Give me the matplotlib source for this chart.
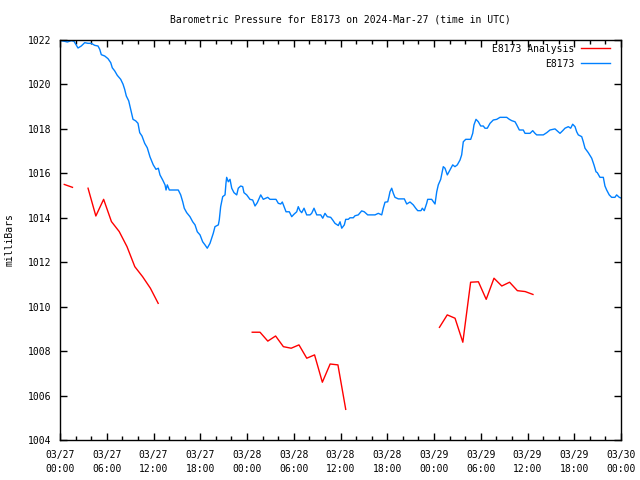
import numpy as np
import matplotlib
matplotlib.use("Agg")
import matplotlib.pyplot as plt
import matplotlib.dates as mdates
import pandas as pd
from matplotlib.ticker import MultipleLocator

plt.rcParams['font.family'] = ['DejaVu Sans Mono']

base = pd.Timestamp("2024-03-27 00:00")

# Station observations (hours since 2024-03-27 00:00 UTC, millibars)
obs_hours = [0, 0.17, 0.60, 0.94, 1.45, 1.80, 2.31, 2.73, 3.17, 3.59, 4.02, 4.45, 4.88, 5.10, 5.30, 5.74,
             6.16, 6.51, 6.71, 7.02, 7.35, 7.79, 8.09, 8.30, 8.51, 8.82, 9.07, 9.37, 9.72, 10.01, 10.23,
             10.52, 10.87, 11.20, 11.55, 11.97, 12.32, 12.62, 12.83, 13.18, 13.48, 13.61, 13.77, 14.03,
             15.18, 15.49, 15.75, 15.95, 16.26, 16.68, 17.03, 17.33, 17.62, 17.97, 18.31, 18.61, 18.90,
             19.25, 19.67, 19.89, 20.32, 20.44, 20.62, 20.88, 21.18, 21.30, 21.39, 21.60, 21.82, 22.04,
             22.33, 22.68, 22.88, 23.19, 23.45, 23.61, 23.96, 24.38, 24.73, 25.03, 25.32, 25.76, 26.09,
             26.66, 26.95, 27.72, 28.02, 28.33, 28.53, 28.79, 29.01, 29.43, 29.74, 30.03, 30.38, 30.58,
             30.80, 31.02, 31.32, 31.66, 32.09, 32.30, 32.60, 32.95, 33.46, 33.72, 34.01, 34.31, 34.74,
             35.00, 35.29, 35.72, 35.94, 36.16, 36.49, 36.67, 37.00, 37.22, 37.64, 37.86, 38.28, 38.72,
             39.05, 39.49, 40.43, 40.85, 41.29, 41.49, 41.71, 42.06, 42.22, 42.35, 42.57, 42.78, 42.99,
             43.42, 44.19, 44.50, 44.92, 45.34, 45.65, 45.91, 46.33, 46.50, 46.75, 47.06, 47.19, 47.70,
             48.13, 48.35, 48.55, 48.86, 49.19, 49.41, 49.71, 50.05, 50.40, 50.69, 50.99, 51.34, 51.55,
             51.76, 52.07, 52.71, 52.97, 53.13, 53.39, 53.69, 53.99, 54.33, 54.54, 54.84, 55.19, 55.61,
             56.05, 56.47, 57.33, 57.67, 57.98, 58.40, 58.62, 58.95, 59.46, 59.68, 60.32, 60.67, 60.96,
             61.18, 62.03, 62.47, 62.89, 63.53, 63.82, 64.17, 64.52, 64.81, 65.24, 65.54, 65.80, 66.10,
             66.31, 66.52, 66.96, 67.16, 67.38, 67.80, 68.24, 68.53, 68.79, 68.96, 69.30, 69.73, 69.94,
             70.16, 70.49, 70.80, 71.22, 71.44, 71.78, 72.0]
obs_mb = [1022.0, 1021.97, 1021.94, 1021.91, 1021.97, 1021.94, 1021.64, 1021.73, 1021.88, 1021.85, 1021.85,
          1021.76, 1021.73, 1021.58, 1021.34, 1021.28, 1021.16, 1020.98, 1020.75, 1020.61, 1020.41, 1020.23,
          1020.01, 1019.78, 1019.48, 1019.26, 1018.88, 1018.43, 1018.36, 1018.25, 1017.83, 1017.68, 1017.35,
          1017.15, 1016.74, 1016.38, 1016.18, 1016.23, 1015.93, 1015.70, 1015.48, 1015.25, 1015.48, 1015.25,
          1015.25, 1015.03, 1014.72, 1014.43, 1014.23, 1014.05, 1013.82, 1013.68, 1013.37, 1013.23, 1012.92,
          1012.78, 1012.63, 1012.85, 1013.30, 1013.60, 1013.68, 1013.90, 1014.50, 1014.95, 1015.03, 1015.55,
          1015.82, 1015.62, 1015.73, 1015.33, 1015.13, 1015.03, 1015.33, 1015.43, 1015.40, 1015.13, 1015.03,
          1014.83, 1014.80, 1014.53, 1014.68, 1015.03, 1014.83, 1014.92, 1014.83, 1014.83, 1014.65, 1014.62,
          1014.71, 1014.47, 1014.27, 1014.27, 1014.05, 1014.16, 1014.27, 1014.50, 1014.32, 1014.23, 1014.43,
          1014.13, 1014.13, 1014.20, 1014.43, 1014.13, 1014.13, 1013.98, 1014.20, 1014.05, 1014.02, 1013.90,
          1013.75, 1013.65, 1013.82, 1013.53, 1013.68, 1013.93, 1013.93, 1014.00, 1014.00, 1014.09, 1014.13,
          1014.31, 1014.27, 1014.13, 1014.13, 1014.20, 1014.13, 1014.43, 1014.70, 1014.72, 1014.95, 1015.17,
          1015.33, 1015.10, 1014.92, 1014.85, 1014.85, 1014.62, 1014.71, 1014.58, 1014.43, 1014.32, 1014.32,
          1014.43, 1014.32, 1014.65, 1014.83, 1014.83, 1014.62, 1015.17, 1015.48, 1015.73, 1016.30, 1016.23,
          1015.93, 1016.15, 1016.38, 1016.30, 1016.38, 1016.60, 1016.83, 1017.42, 1017.53, 1017.53, 1017.80,
          1018.18, 1018.43, 1018.32, 1018.13, 1018.13, 1018.03, 1018.03, 1018.25, 1018.40, 1018.43, 1018.52,
          1018.52, 1018.43, 1018.37, 1018.32, 1018.18, 1017.95, 1017.95, 1017.80, 1017.80, 1017.92, 1017.80,
          1017.73, 1017.73, 1017.83, 1017.95, 1018.00, 1017.91, 1017.80, 1017.92, 1018.03, 1018.10, 1018.03,
          1018.21, 1018.10, 1017.87, 1017.73, 1017.65, 1017.42, 1017.13, 1016.93, 1016.68, 1016.38, 1016.07,
          1016.03, 1015.82, 1015.82, 1015.43, 1015.25, 1015.03, 1014.92, 1014.92, 1015.03, 1014.92, 1014.89]

# Analysis (hourly, NaN = missing)
ana_hours = [0.55, 1.6, 2.6,
             3.6, 4.6, 5.6, 6.6, 7.6, 8.6, 9.6, 10.6, 11.6, 12.6, 13.6,
             24.67, 25.67, 26.67, 27.67, 28.67, 29.67, 30.67, 31.67, 32.67, 33.67, 34.67, 35.67, 36.67, 37.67,
             48.7, 49.7, 50.7, 51.7, 52.7, 53.7, 54.7, 55.7, 56.7, 57.7, 58.7, 59.7, 60.7]
ana_mb = [1015.50, 1015.37, np.nan,
          1015.33, 1014.08, 1014.83, 1013.83, 1013.38, 1012.70, 1011.80, 1011.35, 1010.83, 1010.15, np.nan,
          1008.85, 1008.85, 1008.45, 1008.68, 1008.20, 1008.13, 1008.28, 1007.68, 1007.83, 1006.60, 1007.42,
          1007.38, 1005.38, np.nan,
          1009.07, 1009.63, 1009.48, 1008.40, 1011.10, 1011.12, 1010.33, 1011.28, 1010.93, 1011.10, 1010.72,
          1010.68, 1010.55]

title = "Barometric Pressure for E8173 on 2024-Mar-27 (time in UTC)"

def to_dt(hours):
    return base + pd.to_timedelta(np.asarray(hours, dtype=float), unit="h")

fig = plt.figure(figsize=(6.4, 4.8), dpi=100)
ax = fig.add_axes([60/640, 40/480, 561/640, 400/480])

ax.plot(to_dt(ana_hours), ana_mb, color="#ff0000", lw=1.0, label="E8173 Analysis")
ax.plot(to_dt(obs_hours), obs_mb, color="#0080ff", lw=1.0, label="E8173")

ax.set_xlim(base, base + pd.Timedelta(hours=72))
ax.set_ylim(1004, 1022)
ax.yaxis.set_major_locator(MultipleLocator(2))
ax.xaxis.set_major_locator(mdates.HourLocator(byhour=[0, 6, 12, 18]))
ax.xaxis.set_minor_locator(mdates.HourLocator(byhour=range(0, 24, 2)))
ax.xaxis.set_major_formatter(mdates.DateFormatter("%m/%d\n%H:%M"))

ax.tick_params(axis="both", which="both", direction="in", top=True, right=True,
               labelsize=7, color="black", width=1.0)
ax.tick_params(axis="both", which="major", length=5)
ax.tick_params(axis="x", which="minor", length=3)
ax.tick_params(axis="x", which="major", pad=7)
ax.tick_params(axis="y", which="major", pad=6)
for lab in ax.get_xticklabels():
    lab.set_linespacing(1.5)
for sp in ax.spines.values():
    sp.set_linewidth(1.0)
    sp.set_color("black")

leg = ax.legend(loc="upper right", bbox_to_anchor=(0.9875, 1.0), markerfirst=False,
                frameon=False, fontsize=7, handlelength=3.0, handletextpad=0.7,
                labelspacing=0.5, borderaxespad=0.0, borderpad=0.4)

fig.text(340/640, 1 - 20/480, title, ha="center", va="center", fontsize=7)
fig.text(10/640, 0.5, "milliBars", rotation=90, ha="center", va="center", fontsize=7)

fig.savefig("out.png", dpi=100)
